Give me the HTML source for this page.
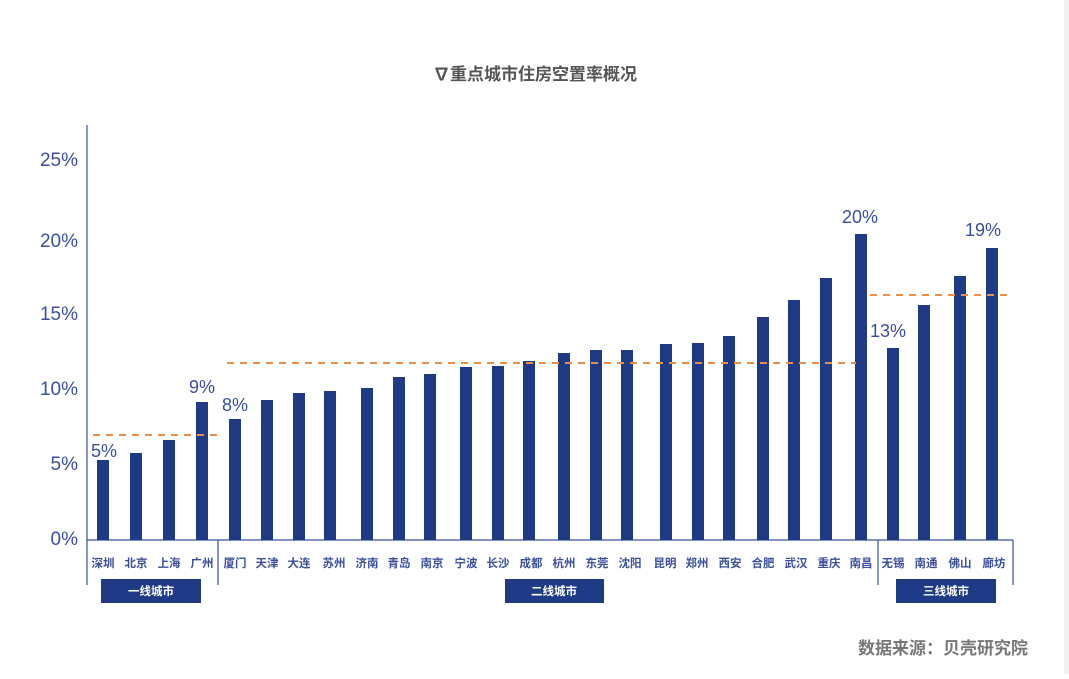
<!DOCTYPE html>
<html><head><meta charset="utf-8"><style>
html,body{margin:0;padding:0;background:#fff;}
body{width:1069px;height:674px;overflow:hidden;}
text{font-family:"Liberation Sans","Noto Sans CJK SC",sans-serif;}
</style></head><body>
<svg width="1069" height="674" xmlns="http://www.w3.org/2000/svg">
<rect x="0" y="0" width="1069" height="674" fill="#fff"/>
<rect x="1064" y="0" width="5" height="674" fill="#f0f0f0"/>
<text x="535" y="80" text-anchor="middle" font-size="17" font-weight="bold" fill="#555">∇重点城市住房空置率概况</text>
<g font-size="19" fill="#3b4f9c" text-anchor="end">
<text x="78" y="545">0%</text><text x="78" y="470">5%</text><text x="78" y="395">10%</text>
<text x="78" y="320">15%</text><text x="78" y="247">20%</text><text x="78" y="166">25%</text>
</g>
<g stroke="#3b4f9c" stroke-width="1.2" fill="none">
<line x1="87" y1="125" x2="87" y2="585"/>
<line x1="87" y1="540" x2="1013" y2="540"/>
<line x1="218" y1="540" x2="218" y2="585"/>
<line x1="878" y1="540" x2="878" y2="585"/>
<line x1="1013" y1="540" x2="1013" y2="585"/>
</g>
<g fill="#1f3a87">
<rect x="97" y="460" width="12" height="80"/><rect x="130" y="453" width="12" height="87"/>
<rect x="163" y="440" width="12" height="100"/><rect x="196" y="402" width="12" height="138"/>
<rect x="229" y="419" width="12" height="121"/><rect x="261" y="400" width="12" height="140"/>
<rect x="293" y="393" width="12" height="147"/><rect x="324" y="391" width="12" height="149"/>
<rect x="361" y="388" width="12" height="152"/><rect x="393" y="377" width="12" height="163"/>
<rect x="424" y="374" width="12" height="166"/><rect x="460" y="367" width="12" height="173"/>
<rect x="492" y="366" width="12" height="174"/><rect x="523" y="361" width="12" height="179"/>
<rect x="558" y="353" width="12" height="187"/><rect x="590" y="350" width="12" height="190"/>
<rect x="621" y="350" width="12" height="190"/><rect x="660" y="344" width="12" height="196"/>
<rect x="692" y="343" width="12" height="197"/><rect x="723" y="336" width="12" height="204"/>
<rect x="757" y="317" width="12" height="223"/><rect x="788" y="300" width="12" height="240"/>
<rect x="820" y="278" width="12" height="262"/><rect x="855" y="234" width="12" height="306"/>
<rect x="887" y="348" width="12" height="192"/><rect x="918" y="305" width="12" height="235"/>
<rect x="954" y="276" width="12" height="264"/><rect x="986" y="248" width="12" height="292"/>
</g>
<g stroke="#e8904a" stroke-width="2" stroke-dasharray="7,6">
<line x1="93" y1="435" x2="222" y2="435"/>
<line x1="227" y1="363" x2="856" y2="363"/>
<line x1="870" y1="295" x2="1008" y2="295"/>
</g>
<g font-size="18" fill="#3b4f9c" text-anchor="middle">
<text x="104" y="457">5%</text><text x="202" y="393">9%</text><text x="235" y="411">8%</text>
<text x="860" y="223">20%</text><text x="888" y="337">13%</text><text x="983" y="236">19%</text>
</g>
<g font-size="11.5" font-weight="bold" fill="#3b4f9c" text-anchor="middle">
<text x="103" y="567">深圳</text><text x="136" y="567">北京</text><text x="169" y="567">上海</text><text x="202" y="567">广州</text>
<text x="235" y="567">厦门</text><text x="267" y="567">天津</text><text x="299" y="567">大连</text><text x="334" y="567">苏州</text>
<text x="367" y="567">济南</text><text x="399" y="567">青岛</text><text x="432" y="567">南京</text><text x="466" y="567">宁波</text>
<text x="498" y="567">长沙</text><text x="531" y="567">成都</text><text x="564" y="567">杭州</text><text x="597" y="567">东莞</text>
<text x="630" y="567">沈阳</text><text x="665" y="567">昆明</text><text x="697" y="567">郑州</text><text x="730" y="567">西安</text>
<text x="763" y="567">合肥</text><text x="796" y="567">武汉</text><text x="829" y="567">重庆</text><text x="861" y="567">南昌</text>
<text x="893" y="567">无锡</text><text x="926" y="567">南通</text><text x="960" y="567">佛山</text><text x="994" y="567">廊坊</text>
</g>
<g fill="#1f3a87">
<rect x="101" y="579" width="100" height="24"/><rect x="505" y="579" width="99" height="24"/><rect x="896" y="579" width="100" height="24"/>
</g>
<g font-size="11.5" font-weight="bold" fill="#fff" text-anchor="middle">
<text x="151" y="595">一线城市</text><text x="554" y="595">二线城市</text><text x="946" y="595">三线城市</text>
</g>
<text x="1028" y="654" text-anchor="end" font-size="17" font-weight="bold" fill="#777">数据来源：贝壳研究院</text>
</svg>
</body></html>
